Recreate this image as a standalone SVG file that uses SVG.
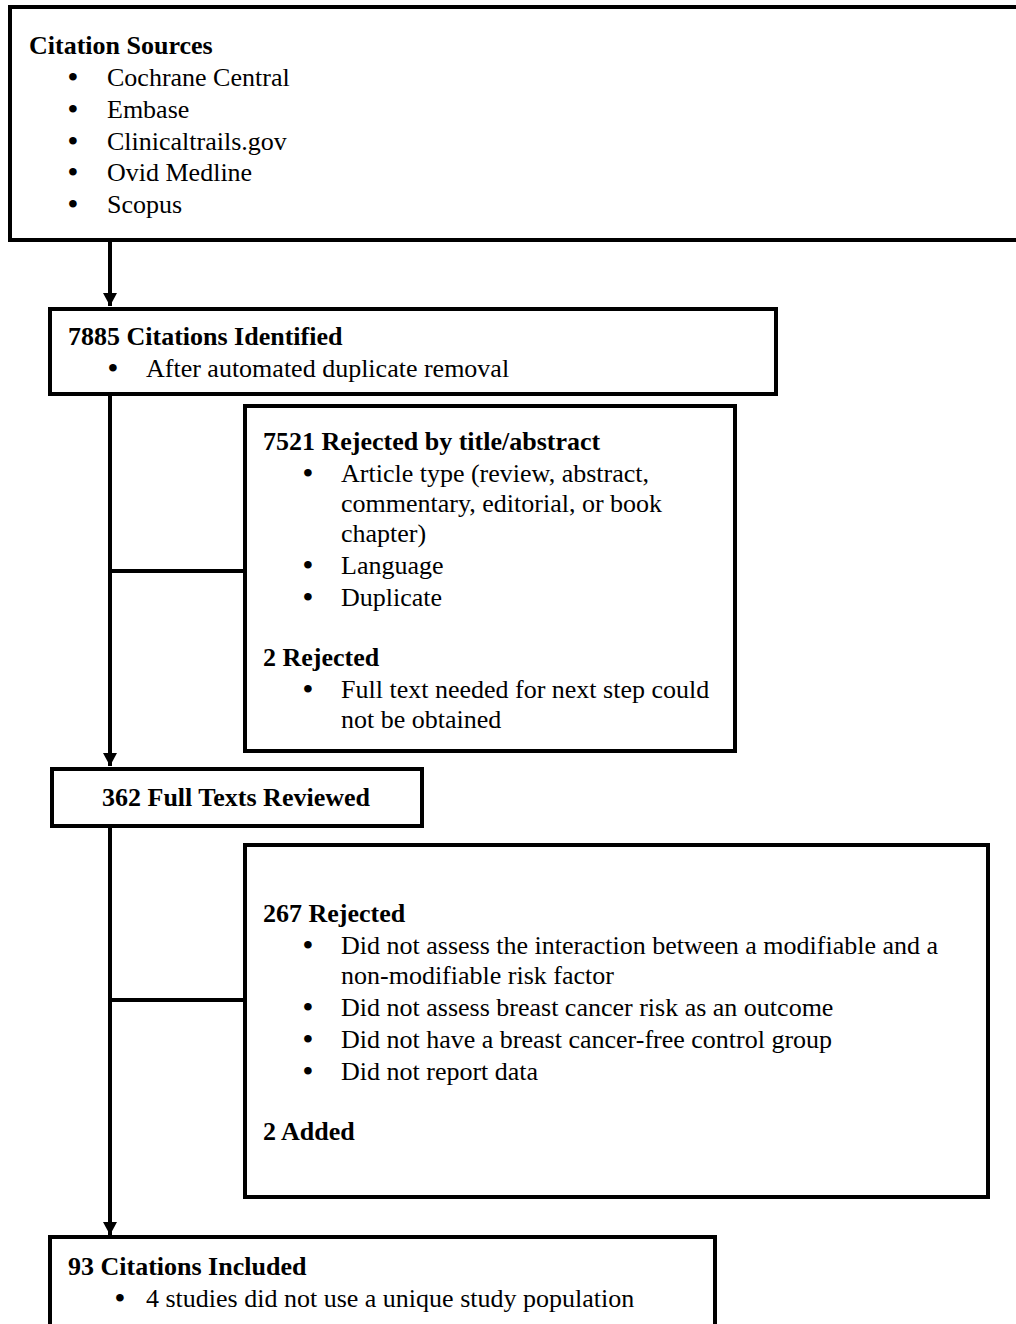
<svg xmlns="http://www.w3.org/2000/svg" width="1016" height="1324" viewBox="0 0 1016 1324">
<style>
.box{fill:#fff;stroke:#000;stroke-width:4}
.t{font-family:"Liberation Serif","Times New Roman",serif;font-size:26px;fill:#000}
.b{font-weight:bold}
.bul{font-family:"Liberation Serif","Times New Roman",serif;font-size:28px;font-weight:bold;fill:#000;text-anchor:middle}
.c{fill:none;stroke:#000;stroke-width:4}
</style>
<defs>
<marker id="ah" markerUnits="userSpaceOnUse" markerWidth="14" markerHeight="14" refX="13" refY="7" orient="auto">
<path d="M0,0 L13,7 L0,14 z" fill="#000"/>
</marker>
</defs>
<rect width="1016" height="1324" fill="#fff"/>
<g id="connectors">
<path class="c" d="M110,242 V306" marker-end="url(#ah)"/>
<path class="c" d="M110,396 V766" marker-end="url(#ah)"/>
<path class="c" d="M110,571 H245"/>
<path class="c" d="M110,828 V1235" marker-end="url(#ah)"/>
<path class="c" d="M110,1000 H245"/>
</g>
<g id="sources">
<rect class="box" x="10" y="7" width="1030" height="233"/>
<text class="t b" x="29" y="54">Citation Sources</text>
<text class="bul" x="73" y="86">•</text><text class="t" x="107" y="86">Cochrane Central</text>
<text class="bul" x="73" y="118">•</text><text class="t" x="107" y="118">Embase</text>
<text class="bul" x="73" y="150">•</text><text class="t" x="107" y="150">Clinicaltrails.gov</text>
<text class="bul" x="73" y="181">•</text><text class="t" x="107" y="181">Ovid Medline</text>
<text class="bul" x="73" y="213">•</text><text class="t" x="107" y="213">Scopus</text>
</g>
<g id="identified">
<rect class="box" x="50" y="309" width="726" height="85"/>
<text class="t b" x="68" y="345">7885 Citations Identified</text>
<text class="bul" x="113" y="377">•</text><text class="t" x="146" y="377">After automated duplicate removal</text>
</g>
<g id="rejected1">
<rect class="box" x="245" y="406" width="490" height="345"/>
<text class="t b" x="263" y="450">7521 Rejected by title/abstract</text>
<text class="bul" x="308" y="482">•</text><text class="t" x="341" y="482">Article type (review, abstract,</text>
<text class="t" x="341" y="512">commentary, editorial, or book</text>
<text class="t" x="341" y="542">chapter)</text>
<text class="bul" x="308" y="574">•</text><text class="t" x="341" y="574">Language</text>
<text class="bul" x="308" y="606">•</text><text class="t" x="341" y="606">Duplicate</text>
<text class="t b" x="263" y="666">2 Rejected</text>
<text class="bul" x="308" y="698">•</text><text class="t" x="341" y="698">Full text needed for next step could</text>
<text class="t" x="341" y="728">not be obtained</text>
</g>
<g id="fulltexts">
<rect class="box" x="52" y="769" width="370" height="57"/>
<text class="t b" x="236" y="806" text-anchor="middle">362 Full Texts Reviewed</text>
</g>
<g id="rejected2">
<rect class="box" x="245" y="845" width="743" height="352"/>
<text class="t b" x="263" y="922">267 Rejected</text>
<text class="bul" x="308" y="954">•</text><text class="t" x="341" y="954">Did not assess the interaction between a modifiable and a</text>
<text class="t" x="341" y="984">non-modifiable risk factor</text>
<text class="bul" x="308" y="1016">•</text><text class="t" x="341" y="1016">Did not assess breast cancer risk as an outcome</text>
<text class="bul" x="308" y="1048">•</text><text class="t" x="341" y="1048">Did not have a breast cancer-free control group</text>
<text class="bul" x="308" y="1080">•</text><text class="t" x="341" y="1080">Did not report data</text>
<text class="t b" x="263" y="1140">2 Added</text>
</g>
<g id="included">
<rect class="box" x="50" y="1237" width="665" height="120"/>
<text class="t b" x="68" y="1275">93 Citations Included</text>
<text class="bul" x="120" y="1307">•</text><text class="t" x="146" y="1307">4 studies did not use a unique study population</text>
</g>
</svg>
